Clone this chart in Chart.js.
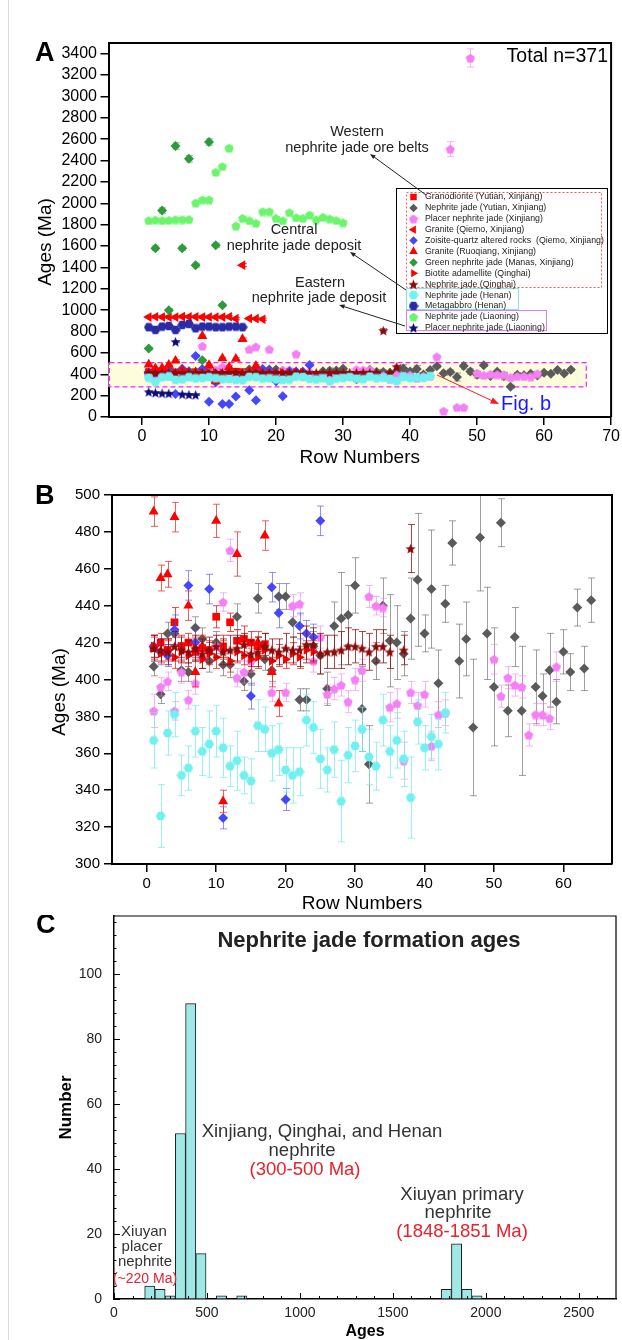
<!DOCTYPE html>
<html>
<head>
<meta charset="utf-8">
<title>Nephrite jade ages</title>
<script src="https://cdn.jsdelivr.net/npm/chart.js@4.4.1/dist/chart.umd.min.js"></script>
<style>
  html, body { margin:0; padding:0; background:#fff; }
  body { width:622px; height:1340px; position:relative; overflow:hidden; }
  .edge { position:absolute; left:8px; top:0; width:1px; height:1340px; background:#d9d9d9; }
  canvas { position:absolute; left:0; }
  #chartA { top:0; }
  #chartB { top:470px; }
  #chartC { top:915px; }
</style>
</head>
<body>
<div class="edge"></div>
<canvas id="chartA" width="622" height="470"></canvas>
<canvas id="chartB" width="622" height="445"></canvas>
<canvas id="chartC" width="622" height="425"></canvas>
<script>
const FONT = "'Liberation Sans', Arial, Helvetica, sans-serif";
const NARROW = "'Liberation Sans Narrow', 'Arial Narrow', " + FONT;

// Panels A and B: age (Ma) and error of each sample; row number = index + 1
const GRANODIORITE_AGE = [417, 420, 416, 431, 418, 420, 415, 417, 416, 434, 418, 431, 421, 422, 420, 418, 419];
const GRANODIORITE_ERR = [6, 5, 5, 8, 6, 5, 5, 6, 5, 6, 6, 5, 6, 7, 6, 5, 6];

const YUTIAN_AGE = [407, 392, 425, 425, 405, 404, 428, 422, 410, 420,
                    408, 408, 434, 399, 403, 444, 411, 405, 445, 445,
                    431, 389, 389, 418, 413, 395, 429, 433, 435, 451,
                    384, 354, 410, 440, 421, 420, 414, 433, 454, 425,
                    449, 398, 441, 474, 410, 422, 374, 477, 425, 396,
                    485, 383, 423, 383, 284, 396, 391, 405, 388, 415,
                    404, 439, 406, 443];
const YUTIAN_ERR = [5, 5, 6, 6, 6, 5, 6, 6, 6, 6,
                    6, 7, 7, 5, 6, 8, 6, 6, 7, 7,
                    8, 6, 6, 8, 10, 9, 13, 25, 16, 15,
                    23, 21, 10, 15, 25, 20, 12, 22, 36, 10,
                    32, 18, 10, 12, 20, 20, 37, 29, 25, 32,
                    13, 14, 16, 35, 12, 20, 12, 20, 12, 12,
                    10, 10, 12, 12];

const PLACER_XJ_AGE = [383, 396, 399, 383, 404, 389, 398, 412, 665, 418,
                       442, 470, 401, 404, 410, 634, 658, 393, 634, 393,
                       440, 441, 590, 410, 423, 392, 395, 397, 388, 400,
                       405, 445, 440, 439, 385, 387, 356, 393, 386, 392,
                       364, 381, 382, 565, 56, 2507, 91, 91, 3360, 411,
                       391, 401, 397, 396, 370, 381, 381, 379, 407];
const PLACER_XJ_ERR = [9, 5, 5, 5, 6, 5, 6, 6, 12, 6,
                       5, 6, 5, 6, 6, 12, 12, 5, 12, 5,
                       6, 6, 12, 6, 6, 5, 6, 6, 6, 6,
                       6, 6, 5, 5, 8, 8, 10, 6, 7, 7,
                       8, 7, 7, 12, 8, 70, 8, 8, 85, 8,
                       6, 6, 6, 6, 6, 6, 6, 6, 8];

const GRANITE_QM_AGE = [935, 938, 936, 935, 934, 940, 938, 937, 935, 936, 934, 935, 938, 920, 1421, 922, 920, 915];
const GRANITE_QM_ERR = [10, 9, 10, 10, 9, 10, 9, 10, 10, 9, 10, 10, 9, 10, 14, 10, 9, 10];

const ZOISITE_AGE = [418, 415, 413, 427, 215, 451, 420, 572, 449, 143, 325, 122, 122, 193, 391, 250, 156, 450, 436, 335, 195, 429, 425, 423, 486];
const ZOISITE_ERR = [6, 7, 6, 8, 8, 8, 7, 10, 8, 8, 6, 8, 8, 8, 7, 8, 8, 8, 8, 6, 8, 7, 7, 7, 8];

const RUOQIANG_AGE = [491, 455, 457, 488, 527, 440, 404, 418, 758, 486, 334, 550, 468, 545, 730, 420, 478, 404, 387];
const RUOQIANG_ERR = [8, 7, 7, 8, 8, 8, 8, 6, 10, 9, 6, 9, 12, 9, 10, 6, 8, 8, 7];

const MANAS_AGE = [640, 1580, 1932, 1000, 2536, 1580, 2416, 1421, 530, 2573, 1608, 1046];
const MANAS_ERR = [12, 20, 25, 15, 30, 20, 30, 18, 10, 30, 20, 15];

const BIOTITE_AGE = [418, 414, 416, 412, 415, 413, 417, 411, 414, 412, 416, 410, 415, 413, 411, 412, 416, 410, 413, 411, 414, 412, 416, 415];
const BIOTITE_ERR = [6, 5, 6, 6, 5, 6, 6, 5, 6, 6, 5, 6, 6, 5, 6, 6, 5, 6, 6, 5, 6, 6, 5, 6];

const QINGHAI_AGE = [417, 416, 415, 418, 416, 415, 417, 414, 416, 418,
                     415, 416, 417, 419, 414, 415, 418, 416, 415, 417,
                     416, 416, 419, 419, 414, 415, 415, 416, 418, 418,
                     417, 415, 418, 418, 415, 810, 416, 471];
const QINGHAI_ERR = [7, 6, 7, 8, 7, 6, 7, 8, 7, 6,
                     7, 8, 7, 6, 7, 8, 7, 6, 7, 8,
                     7, 9, 10, 9, 11, 9, 9, 10, 10, 9,
                     9, 10, 9, 9, 9, 15, 8, 13];

const HENAN_AGE = [367, 326, 371, 381, 348, 352, 372, 361, 365, 372,
                   363, 353, 356, 348, 345, 375, 373, 360, 362, 351,
                   348, 350, 378, 374, 357, 351, 362, 334, 359, 364,
                   373, 358, 353, 378, 361, 367, 357, 336, 377, 363,
                   369, 365, 382];
const HENAN_ERR = [15, 17, 12, 12, 11, 12, 14, 13, 18, 14,
                   16, 11, 16, 10, 12, 14, 12, 15, 14, 12,
                   15, 13, 14, 14, 16, 12, 15, 22, 15, 14,
                   12, 15, 13, 14, 14, 15, 15, 22, 12, 12,
                   12, 14, 11];

const METAGABBRO_AGE = [840, 815, 846, 852, 815, 862, 871, 830, 846, 846, 840, 840, 846, 846, 840];
const METAGABBRO_ERR = [10, 12, 10, 10, 12, 10, 10, 10, 10, 10, 10, 10, 10, 10, 10];

const LIAONING_AGE = [1839, 1845, 1840, 1842, 1848, 1848, 1850, 2004, 2033, 2033,
                      2292, 2345, 2517, 1789, 1861, 1839, 1814, 1923, 1923, 1861,
                      1839, 1914, 1867, 1861, 1892, 1848, 1870, 1855, 1840, 1820];
const LIAONING_ERR = [18, 15, 16, 15, 18, 16, 15, 20, 18, 18,
                      22, 20, 25, 18, 20, 16, 18, 20, 18, 16,
                      15, 18, 16, 15, 18, 16, 18, 15, 16, 18];

const PLACER_LN_AGE = [236, 228, 224, 222, 705, 214, 210, 208];
const PLACER_LN_ERR = [8, 8, 7, 8, 10, 8, 8, 7];

const ROW_TICKS_A = [0, 10, 20, 30, 40, 50, 60, 70];
const AGE_TICKS_A = [0, 200, 400, 600, 800, 1000, 1200, 1400, 1600, 1800, 2000, 2200, 2400, 2600, 2800, 3000, 3200, 3400];
const ROW_TICKS_B = [0, 10, 20, 30, 40, 50, 60];
const AGE_TICKS_B = [300, 320, 340, 360, 380, 400, 420, 440, 460, 480, 500];

// Panel C: histogram of formation ages
const BIN_WIDTH = 55;
const BIN_START = [165, 220, 275, 330, 385, 440, 550, 660, 1760, 1815, 1870, 1925];
const BIN_COUNT = [4, 3, 1, 51, 91, 14, 1, 1, 3, 17, 3, 1];
const AGE_TICKS_C = [0, 500, 1000, 1500, 2000, 2500];
const NUMBER_TICKS_C = [0, 20, 40, 60, 80, 100];

// dashed "Fig. b" window in panel A (data units)
const ZOOM_BOX = {x0: -5, x1: 66.3, y0: 281, y1: 509};

function markerCanvas(kind, size, color) {
  const c = document.createElement('canvas');
  c.width = c.height = size;
  const g = c.getContext('2d');
  const cx = size / 2, cy = size / 2, R = size / 2 - 0.2;
  g.fillStyle = color;
  g.beginPath();
  if (kind === 'star') {
    for (let i = 0; i < 10; i++) {
      const rr = i % 2 ? R * 0.44 : R;
      const a = -Math.PI / 2 + i * Math.PI / 5;
      g.lineTo(cx + rr * Math.cos(a), cy + 0.6 + rr * Math.sin(a));
    }
  } else {
    const n = kind === 'pentagon' ? 5 : 6;
    const off = kind === 'pentagon' ? -Math.PI / 2 : 0;
    for (let i = 0; i < n; i++) {
      const a = off + i * 2 * Math.PI / n;
      g.lineTo(cx + R * Math.cos(a), cy + (kind === 'pentagon' ? 0.5 : 0) + R * Math.sin(a));
    }
  }
  g.closePath();
  g.fill();
  return c;
}

const SERIES = [
  {label: 'Granodiorite (Yutian, Xinjiang)', age: GRANODIORITE_AGE, err: GRANODIORITE_ERR,
   color: '#ff0000', errColor: 'rgba(230,30,30,0.8)', style: 'rect', radius: 5.4},
  {label: 'Nephrite jade (Yutian, Xinjiang)', age: YUTIAN_AGE, err: YUTIAN_ERR,
   color: '#5a5a5a', errColor: 'rgba(80,80,80,0.55)', style: 'rectRot', radius: 5},
  {label: 'Placer nephrite jade (Xinjiang)', age: PLACER_XJ_AGE, err: PLACER_XJ_ERR,
   color: '#f57ff5', errColor: 'rgba(240,120,240,0.55)', style: markerCanvas('pentagon', 10, '#f57ff5')},
  {label: 'Granite (Qiemo, Xinjiang)', age: GRANITE_QM_AGE, err: GRANITE_QM_ERR,
   color: '#ff0000', errColor: 'rgba(230,30,30,0.8)', style: 'triangle', rotation: -90, radius: 5.6},
  {label: 'Zoisite-quartz altered rocks  (Qiemo, Xinjiang)', age: ZOISITE_AGE, err: ZOISITE_ERR,
   color: '#4646ff', errColor: 'rgba(70,70,255,0.6)', style: 'rectRot', radius: 5},
  {label: 'Granite (Ruoqiang, Xinjiang)', age: RUOQIANG_AGE, err: RUOQIANG_ERR,
   color: '#ff0000', errColor: 'rgba(230,30,30,0.7)', style: 'triangle', radius: 5.8},
  {label: 'Green nephrite jade (Manas, Xinjiang)', age: MANAS_AGE, err: MANAS_ERR,
   color: '#2f9a3c', errColor: 'rgba(47,154,60,0.6)', style: 'rectRot', radius: 5},
  {label: 'Biotite adamellite (Qinghai)', age: BIOTITE_AGE, err: BIOTITE_ERR,
   color: '#ff0000', errColor: 'rgba(230,30,30,0.75)', style: 'triangle', rotation: 90, radius: 5.4},
  {label: 'Nephrite jade (Qinghai)', age: QINGHAI_AGE, err: QINGHAI_ERR,
   color: '#8b0a0a', errColor: 'rgba(139,10,10,0.75)', style: markerCanvas('star', 11, '#8b0a0a')},
  {label: 'Nephrite jade (Henan)', age: HENAN_AGE, err: HENAN_ERR,
   color: '#70f0f0', errColor: 'rgba(110,235,240,0.7)', style: markerCanvas('hexagon', 10, '#70f0f0')},
  {label: 'Metagabbro (Henan)', age: METAGABBRO_AGE, err: METAGABBRO_ERR,
   color: '#2b2ba6', errColor: 'rgba(43,43,166,0.6)', style: markerCanvas('hexagon', 10, '#2b2ba6')},
  {label: 'Nephrite jade (Liaoning)', age: LIAONING_AGE, err: LIAONING_ERR,
   color: '#6cf56c', errColor: 'rgba(108,245,108,0.6)', style: markerCanvas('pentagon', 10, '#6cf56c')},
  {label: 'Placer nephrite jade (Liaoning)', age: PLACER_LN_AGE, err: PLACER_LN_ERR,
   color: '#0c0c7a', errColor: 'rgba(12,12,122,0.6)', style: markerCanvas('star', 11, '#0c0c7a')}
];

// first legend entry sits at the bottom, as in the original plot
function scatterSets() {
  return SERIES.map(s => ({
    label: s.label,
    data: s.age.map((v, i) => ({x: i + 1, y: v})),
    errors: s.err,
    errorColor: s.errColor,
    pointStyle: s.style,
    pointRotation: s.rotation || 0,
    pointRadius: s.radius || 5,
    backgroundColor: s.color,
    borderColor: s.color,
    pointBorderWidth: 0,
    showLine: false
  })).reverse();
}

const errorBars = {
  id: 'errorBars',
  beforeDatasetDraw(chart, args) {
    const ds = chart.data.datasets[args.index];
    if (!ds.errors) return;
    const {ctx, chartArea: a, scales: {x, y}} = chart;
    ctx.save();
    ctx.beginPath();
    ctx.rect(a.left, a.top, a.right - a.left, a.bottom - a.top);
    ctx.clip();
    ctx.strokeStyle = ds.errorColor;
    ctx.lineWidth = 1;
    ds.data.forEach((p, i) => {
      const e = ds.errors[i];
      const px = Math.round(x.getPixelForValue(p.x)) + 0.5;
      const y1 = y.getPixelForValue(p.y + e), y2 = y.getPixelForValue(p.y - e);
      ctx.beginPath();
      ctx.moveTo(px, y1); ctx.lineTo(px, y2);
      ctx.moveTo(px - 3.5, y1); ctx.lineTo(px + 3.5, y1);
      ctx.moveTo(px - 3.5, y2); ctx.lineTo(px + 3.5, y2);
      ctx.stroke();
    });
    ctx.restore();
  }
};

const frame = {
  id: 'frame',
  afterDraw(chart, args, opts) {
    const {ctx, chartArea: a} = chart;
    ctx.save();
    ctx.strokeStyle = '#000';
    ctx.lineWidth = opts.width || 1.5;
    ctx.beginPath();
    ctx.moveTo(a.left, a.top); ctx.lineTo(a.right, a.top); ctx.lineTo(a.right, a.bottom);
    ctx.stroke();
    ctx.restore();
  }
};

function arrow(ctx, x1, y1, x2, y2, color, head) {
  const a = Math.atan2(y2 - y1, x2 - x1);
  ctx.save();
  ctx.strokeStyle = color; ctx.fillStyle = color; ctx.lineWidth = 1;
  ctx.beginPath(); ctx.moveTo(x1, y1);
  ctx.lineTo(x2 - head * 0.8 * Math.cos(a), y2 - head * 0.8 * Math.sin(a));
  ctx.stroke();
  ctx.beginPath(); ctx.moveTo(x2, y2);
  ctx.lineTo(x2 - head * Math.cos(a - 0.38), y2 - head * Math.sin(a - 0.38));
  ctx.lineTo(x2 - head * Math.cos(a + 0.38), y2 - head * Math.sin(a + 0.38));
  ctx.closePath(); ctx.fill();
  ctx.restore();
}

function text(ctx, s, x, y, font, color, align) {
  ctx.font = font;
  ctx.fillStyle = color || '#000';
  ctx.textAlign = align || 'center';
  ctx.textBaseline = 'middle';
  ctx.fillText(s, x, y);
}

function vText(ctx, s, x, y, font) {
  ctx.save();
  ctx.translate(x, y);
  ctx.rotate(-Math.PI / 2);
  text(ctx, s, 0, 0, font, '#000');
  ctx.restore();
}

function drawLegend(ctx) {
  ctx.save();
  ctx.fillStyle = '#fff';
  ctx.fillRect(396, 188, 211, 145);
  ctx.lineWidth = 1;
  ctx.strokeStyle = '#000';
  ctx.strokeRect(396.5, 188.5, 211, 145);
  ctx.setLineDash([2, 2]);
  ctx.strokeStyle = '#f25a5a';
  ctx.strokeRect(406.5, 192.5, 195, 95);
  ctx.setLineDash([]);
  ctx.strokeStyle = '#86e3ef';
  ctx.strokeRect(406.5, 288.5, 112, 21);
  ctx.strokeStyle = '#e77be7';
  ctx.strokeRect(406.5, 310.5, 140, 20);
  SERIES.forEach((s, i) => {
    const y = 197 + i * 10.9;
    ctx.fillStyle = s.color;
    Chart.helpers.drawPoint(ctx, {pointStyle: s.style, rotation: s.rotation || 0,
      radius: (s.radius || 5) * 0.85, borderWidth: 0}, 413.5, y);
    text(ctx, s.label, 425, y, '8.8px ' + FONT, '#222', 'left');
  });
  ctx.restore();
}

const panelA = {
  id: 'panelA',
  beforeDatasetsDraw(chart) {
    const {ctx, scales: {x, y}} = chart;
    const l = x.getPixelForValue(ZOOM_BOX.x0), r = x.getPixelForValue(ZOOM_BOX.x1);
    const t = y.getPixelForValue(ZOOM_BOX.y1), b = y.getPixelForValue(ZOOM_BOX.y0);
    ctx.save();
    ctx.fillStyle = '#fdfcdc';
    ctx.fillRect(l, t, r - l, b - t);
    ctx.setLineDash([5, 3]);
    ctx.strokeStyle = '#ff20ff';
    ctx.lineWidth = 1.2;
    ctx.strokeRect(l + 1, t, r - l - 1, b - t);
    ctx.restore();
  },
  afterDraw(chart) {
    const ctx = chart.ctx;
    ctx.save();
    drawLegend(ctx);
    const f = '14.5px ' + FONT;
    text(ctx, 'Western', 357, 132, f, '#222');
    text(ctx, 'nephrite jade ore belts', 357, 148, f, '#222');
    text(ctx, 'Central', 294, 230, f, '#222');
    text(ctx, 'nephrite jade deposit', 294, 246, f, '#222');
    text(ctx, 'Eastern', 320, 283, f, '#222');
    text(ctx, 'nephrite jade deposit', 319, 298, f, '#222');
    arrow(ctx, 426, 195, 370, 154, '#222', 6);
    arrow(ctx, 406, 290, 350, 252, '#222', 6);
    arrow(ctx, 405, 326, 339, 305, '#222', 6);
    arrow(ctx, 437, 375, 499, 404, '#ff1a1a', 9);
    text(ctx, 'Fig. b', 501, 404, '20px ' + FONT, '#1a1aff', 'left');
    text(ctx, 'Total n=371', 608, 57, '19.5px ' + FONT, '#000', 'right');
    text(ctx, 'A', 35, 54, 'bold 27px ' + FONT, '#000', 'left');
    vText(ctx, 'Ages (Ma)', 46, 242, '19px ' + FONT);
    ctx.restore();
  }
};

const panelB = {
  id: 'panelB',
  afterDraw(chart) {
    const ctx = chart.ctx;
    ctx.save();
    text(ctx, 'B', 35, 27, 'bold 27px ' + FONT, '#000', 'left');
    vText(ctx, 'Ages (Ma)', 60, 222, '19px ' + FONT);
    ctx.restore();
  }
};

function scatterScales(opts) {
  return {
    x: {
      type: 'linear', min: opts.xMin, max: opts.xMax,
      afterBuildTicks: s => { s.ticks = opts.xTicks.map(v => ({value: v})); },
      grid: {drawOnChartArea: false, color: '#000', tickLength: 8, lineWidth: 1.5},
      border: {color: '#000', width: 2},
      ticks: {color: '#000', font: {size: opts.tickSize, family: FONT}, padding: opts.xPad,
              maxRotation: 0, autoSkip: false, callback: v => String(v)},
      title: {display: true, text: 'Row Numbers', color: '#000',
              font: {size: 19, family: FONT, lineHeight: 1}, padding: {top: 0, bottom: opts.titlePad}},
      afterFit: s => { s.height = opts.xHeight; }
    },
    y: {
      min: opts.yMin, max: opts.yMax,
      afterBuildTicks: s => { s.ticks = opts.yTicks.map(v => ({value: v})); },
      grid: {drawOnChartArea: false, color: '#000', tickLength: 8, lineWidth: 1.5},
      border: {color: '#000', width: 2},
      ticks: {color: '#000', font: {size: opts.tickSize, family: FONT}, padding: opts.yPad,
              autoSkip: false, callback: v => String(v)},
      afterFit: s => { s.width = opts.yWidth; }
    }
  };
}

Chart.defaults.font.family = FONT;

new Chart(document.getElementById('chartA'), {
  type: 'scatter',
  data: {datasets: scatterSets()},
  options: {
    responsive: false, animation: false, events: [],
    layout: {padding: {top: 43, right: 10, left: 0, bottom: 0}},
    plugins: {legend: {display: false}, tooltip: {enabled: false}, frame: {width: 2}},
    scales: scatterScales({xMin: -5, xMax: 70, xTicks: ROW_TICKS_A, yMin: 0, yMax: 3500, yTicks: AGE_TICKS_A,
      tickSize: 16, xPad: 2, yPad: 3.5, xHeight: 53, yWidth: 108.5, titlePad: 2.5})
  },
  plugins: [errorBars, frame, panelA]
});

new Chart(document.getElementById('chartB'), {
  type: 'scatter',
  data: {datasets: scatterSets()},
  options: {
    responsive: false, animation: false, events: [],
    layout: {padding: {top: 25, right: 10, left: 0, bottom: 0}},
    plugins: {legend: {display: false}, tooltip: {enabled: false}, frame: {width: 2}},
    scales: scatterScales({xMin: -5, xMax: 67, xTicks: ROW_TICKS_B, yMin: 300, yMax: 500, yTicks: AGE_TICKS_B,
      tickSize: 15, xPad: 3, yPad: 4, xHeight: 51, yWidth: 112, titlePad: 1.5})
  },
  plugins: [errorBars, frame, panelB]
});

const panelC = {
  id: 'panelC',
  afterDraw(chart) {
    const {ctx, chartArea: a, scales: {x, y}} = chart;
    ctx.save();
    ctx.strokeStyle = '#000';
    ctx.lineWidth = 1.2;
    ctx.beginPath();
    ctx.moveTo(a.left, a.top); ctx.lineTo(a.right, a.top); ctx.lineTo(a.right, a.bottom);
    ctx.stroke();
    ctx.lineWidth = 1;
    ctx.beginPath();
    for (let v = 0; v <= 116; v += 4) {
      const py = Math.round(y.getPixelForValue(v)) + 0.5;
      const len = v % 20 === 0 ? 6 : 2.5;
      ctx.moveTo(a.left, py); ctx.lineTo(a.left + len, py);
    }
    for (let v = 0; v <= 2600; v += 100) {
      const px = Math.round(x.getPixelForValue(v)) + 0.5;
      const len = v % 500 === 0 ? 6 : 3;
      ctx.moveTo(px, a.bottom); ctx.lineTo(px, a.bottom - len);
    }
    ctx.stroke();
    text(ctx, 'C', 36, 11, 'bold 27px ' + FONT, '#000', 'left');
    text(ctx, 'Nephrite jade formation ages', 369, 26, 'bold 22px ' + FONT, '#222');
    const f = '18.5px ' + FONT, red = '#e8212b';
    text(ctx, 'Xinjiang, Qinghai, and Henan', 322, 217, f, '#333');
    text(ctx, 'nephrite', 302, 236, f, '#333');
    text(ctx, '(300-500 Ma)', 305, 255, f, red);
    text(ctx, 'Xiuyan primary', 462, 280, f, '#333');
    text(ctx, 'nephrite', 458, 298, f, '#333');
    text(ctx, '(1848-1851 Ma)', 462, 317, f, red);
    const s = '15px ' + FONT;
    text(ctx, 'Xiuyan', 144, 317, s, '#333');
    text(ctx, 'placer', 142, 332, s, '#333');
    text(ctx, 'nephrite', 145, 347, s, '#333');
    text(ctx, '(~220 Ma)', 145, 364, '14px ' + FONT, red);
    ctx.restore();
  }
};

new Chart(document.getElementById('chartC'), {
  type: 'bar',
  data: {
    datasets: [{
      data: BIN_START.map((b, i) => ({x: b + BIN_WIDTH / 2, y: BIN_COUNT[i]})),
      backgroundColor: '#a0e8e6',
      borderColor: '#1e1e1e',
      borderWidth: 1,
      barPercentage: 1,
      categoryPercentage: 1
    }]
  },
  options: {
    responsive: false, animation: false, events: [],
    layout: {padding: {top: 1, right: 6, left: 0, bottom: 0}},
    plugins: {legend: {display: false}, tooltip: {enabled: false}},
    scales: {
      x: {
        type: 'linear', min: 0, max: 2700, offset: false,
        afterBuildTicks: s => { s.ticks = AGE_TICKS_C.map(v => ({value: v})); },
        grid: {drawOnChartArea: false, drawTicks: false},
        border: {color: '#000', width: 1.5},
        ticks: {color: '#222', font: {size: 14, family: NARROW}, padding: 6, maxRotation: 0,
                autoSkip: false, callback: v => String(v)},
        title: {display: true, text: 'Ages', color: '#000',
                font: {size: 16, weight: 'bold', family: FONT, lineHeight: 1}, padding: {top: 0, bottom: 0}},
        afterFit: s => { s.height = 41; s.paddingLeft = 0; s.paddingRight = 0; }
      },
      y: {
        min: 0, max: 118,
        afterBuildTicks: s => { s.ticks = NUMBER_TICKS_C.map(v => ({value: v})); },
        grid: {drawOnChartArea: false, drawTicks: false},
        border: {color: '#000', width: 1.5},
        ticks: {color: '#222', font: {size: 14, family: NARROW}, padding: 12,
                autoSkip: false, callback: v => String(v)},
        title: {display: true, text: 'Number', color: '#000',
                font: {size: 17, weight: 'bold', family: FONT, lineHeight: 1}, padding: {top: 57.5, bottom: 0}},
        afterFit: s => { s.width = 114; s.paddingTop = 0; s.paddingBottom = 0; }
      }
    }
  },
  plugins: [panelC]
});
</script>
</body>
</html>
